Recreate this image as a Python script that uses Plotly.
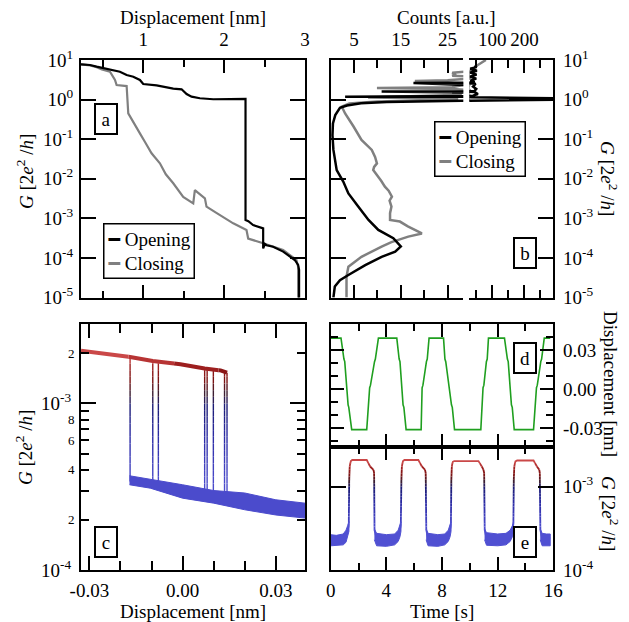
import numpy as np
import plotly.graph_objects as go

FONT = "Liberation Serif, Times New Roman, Times, serif"
# page origin of the plot div is offset by the browser's 8px body margin
OFF = 8
W, H = 629 - OFF, 622 - OFF

# ---------------- Panel a : G vs displacement ----------------
a_open_disp = [0.232, 0.343, 0.425, 0.549, 0.631, 0.713, 0.796, 0.878, 0.960, 1.001, 1.166, 1.290,
               1.372, 1.475, 1.537, 1.598, 1.701, 1.866, 2.113, 2.265, 2.265, 2.300, 2.359, 2.483,
               2.483, 2.505, 2.524, 2.606, 2.730, 2.812, 2.874, 2.915, 2.927, 2.927]
a_open_G = [7.78, 7.48, 6.79, 5.93, 5.38, 5.07, 4.18, 3.79, 3.13, 2.48, 2.29, 2.04,
            1.89, 1.82, 1.38, 1.19, 1.08, 1.02, 1.06, 1.04, 9.1e-4, 8.5e-4, 6.8e-4, 5.6e-4,
            1.75e-4, 2.25e-4, 2.1e-4, 1.93e-4, 1.45e-4, 1.12e-4, 8.9e-5, 6.7e-5, 5.0e-5, 5e-6]
a_close_disp = [0.232, 0.343, 0.425, 0.490, 0.590, 0.652, 0.672, 0.796, 0.816, 0.880, 0.960, 1.030,
                1.104, 1.207, 1.280, 1.372, 1.430, 1.495, 1.619, 1.639, 1.763, 1.783, 1.900, 2.000,
                2.113, 2.277, 2.298, 2.483, 2.730, 2.894, 2.915, 2.915]
a_close_G = [7.78, 7.30, 6.60, 5.80, 5.07, 3.13, 2.34, 2.20, 0.45, 0.26, 0.14, 0.08,
             0.044, 0.0246, 0.013, 7.7e-3, 5.2e-3, 3.5e-3, 2.4e-3, 5.2e-3, 3.2e-3, 1.98e-3, 1.4e-3, 1.05e-3,
             7.5e-4, 5.1e-4, 3.1e-4, 2.35e-4, 1.6e-4, 8.9e-5, 6.0e-5, 5e-6]

# ---------------- Panel b : histograms (counts vs log G) ----------------
b_open_logG = [0.86, 0.82, 0.78, 0.73, 0.68, 0.63, 0.58, 0.53, 0.48, 0.44, 0.42, 0.40, 0.33, 0.27,
               0.22, 0.205, 0.19, 0.14, 0.10, 0.075, 0.06, 0.03, 0.0, -0.03, -0.06, -0.09, -0.15,
               -0.21, -0.30, -0.39, -0.60, -0.90, -1.27, -1.55, -1.78, -2.07, -2.37, -2.70, -3.04,
               -3.29, -3.50, -3.71, -3.84, -3.97, -4.18, -4.43, -4.56, -4.72, -4.98, -5.0]
b_open_counts = [45, 51, 31, 52, 31, 51, 31, 50, 32, 45, 17.7, 48, 40, 50,
                 45, 10.9, 45, 55, 40, 3.1, 35, 300, 300, 28, 12, 6.5, 3.5,
                 2.0, 1.4, 1.0, 0.5, 0.4, 0.6, 1.0, 1.3, 2.7, 3.8, 5.9, 8.1,
                 10.2, 13.4, 15.0, 13.8, 10.9, 7.4, 3.8, 2.0, 0.9, 0.6, 0.6]
b_close_logG = [1.0, 0.96, 0.90, 0.85, 0.80, 0.76, 0.72, 0.68, 0.64, 0.60, 0.57, 0.53, 0.49, 0.47,
                0.44, 0.40, 0.36, 0.31, 0.29, 0.27, 0.22, 0.17, 0.12, 0.08, 0.05, 0.02, -0.01,
                -0.05, -0.10, -0.18, -0.35, -0.68, -1.02, -1.27, -1.45, -1.61, -1.70, -1.78, -1.95,
                -2.05, -2.20, -2.30, -2.45, -2.55, -2.70, -2.87, -3.04, -3.08, -3.20, -3.38, -3.46,
                -3.60, -3.71, -3.97, -4.22, -4.47, -5.0]
b_close_counts = [80, 70, 60, 50, 42, 36, 30, 26, 26.5, 26, 35, 30, 25, 18,
                  26, 30, 28, 26, 9.9, 26, 32, 26, 28, 18, 8, 27, 27,
                  10, 4.0, 2.4, 3.1, 4.9, 6.6, 8.8, 9.5, 9.9, 9.3, 9.1, 10.2,
                  10.8, 11.6, 12.4, 13.1, 12.6, 13.0, 12.7, 12.7, 14.8, 16.5, 19.5, 16.6,
                  13.0, 10.9, 6.6, 3.8, 3.4, 3.4]

# ---------------- Panel c : G vs displacement (switching) ----------------
c_high_disp = [-0.0327, -0.0169, -0.0096, -0.0007, 0.0071, 0.0122, 0.0143]
c_high_G = [2.07e-3, 1.90e-3, 1.80e-3, 1.72e-3, 1.62e-3, 1.58e-3, 1.53e-3]
c_jump_disp = [-0.0169, -0.0096, -0.0078, 0.0071, 0.0079, 0.0099, 0.0135, 0.0143]
c_jump_top = [1.90e-3, 1.80e-3, 1.78e-3, 1.62e-3, 1.61e-3, 1.60e-3, 1.57e-3, 1.53e-3]
c_jump_bottom = [3.4e-4, 3.2e-4, 3.15e-4, 2.9e-4, 2.9e-4, 2.85e-4, 2.8e-4, 2.8e-4]
c_low_disp = [-0.0171, -0.0104, 0.0, 0.010, 0.020, 0.030, 0.0394]
c_low_upper = [3.68e-4, 3.51e-4, 3.25e-4, 3.0e-4, 2.9e-4, 2.64e-4, 2.52e-4]
c_low_lower = [3.25e-4, 3.10e-4, 2.70e-4, 2.52e-4, 2.3e-4, 2.14e-4, 2.05e-4]

# ---------------- Panel d : displacement vs time ----------------
d_time = [0.0, 0.74, 0.95, 1.01, 1.25, 1.30, 1.51, 2.59, 2.80, 2.86, 3.15, 3.21, 3.43,
          4.75, 4.92, 4.98, 5.20, 5.26, 5.42, 6.50, 6.57, 6.63, 6.88, 6.94, 7.07,
          8.11, 8.21, 8.27, 8.68, 8.74, 8.90, 10.79, 10.95, 11.01, 11.19, 11.25, 11.34,
          12.49, 12.70, 12.76, 12.99, 13.05, 13.19, 14.58, 14.79, 14.85, 15.10, 15.16, 15.35, 15.78]
d_disp = [0.039, 0.039, 0.023, 0.021, -0.012, -0.014, -0.031, -0.031, 0.001, 0.003, 0.021, 0.023, 0.039,
          0.039, 0.023, 0.021, -0.012, -0.014, -0.031, -0.031, 0.001, 0.003, 0.021, 0.023, 0.039,
          0.039, 0.023, 0.021, -0.012, -0.014, -0.031, -0.031, 0.001, 0.003, 0.021, 0.023, 0.039,
          0.039, 0.023, 0.021, -0.012, -0.014, -0.031, -0.031, 0.001, 0.003, 0.021, 0.023, 0.039, 0.039]

# ---------------- Panel e : G vs time ----------------
e_time = [0.0, 1.0, 1.2, 1.30, 1.33, 1.37, 1.45, 1.55, 2.59, 2.83, 3.07, 3.12, 3.15, 3.3,
          4.7, 4.95, 5.04, 5.08, 5.12, 5.20, 5.30, 6.30, 6.55, 6.78, 6.83, 6.87, 7.0,
          8.35, 8.55, 8.64, 8.67, 8.71, 8.78, 8.88, 10.62, 10.86, 10.98, 11.03, 11.07, 11.2,
          12.75, 13.0, 13.13, 13.16, 13.20, 13.28, 13.40, 14.58, 14.82, 14.99, 15.03, 15.07, 15.2, 15.78]
e_G = [2.3e-4, 2.4e-4, 2.9e-4, 3.4e-4, 1.2e-3, 1.8e-3, 2.02e-3, 2.08e-3, 2.08e-3, 1.74e-3, 1.60e-3, 1.45e-3, 3.0e-4, 2.4e-4,
       2.4e-4, 2.9e-4, 3.4e-4, 1.2e-3, 1.8e-3, 2.02e-3, 2.08e-3, 2.08e-3, 1.74e-3, 1.60e-3, 1.45e-3, 3.0e-4, 2.4e-4,
       2.4e-4, 2.9e-4, 3.4e-4, 1.2e-3, 1.8e-3, 1.98e-3, 2.02e-3, 2.02e-3, 1.74e-3, 1.60e-3, 1.45e-3, 3.0e-4, 2.4e-4,
       2.4e-4, 2.9e-4, 3.4e-4, 1.2e-3, 1.8e-3, 2.0e-3, 2.05e-3, 2.05e-3, 1.74e-3, 1.60e-3, 1.45e-3, 3.0e-4, 2.4e-4, 2.4e-4]
e_band_time = [[0.0, 0.4, 0.9, 1.1, 1.22, 1.31],
               [3.14, 3.3, 4.0, 4.6, 4.85, 4.98, 5.05],
               [6.86, 7.0, 7.7, 8.2, 8.45, 8.58, 8.65],
               [11.06, 11.2, 12.0, 12.6, 12.9, 13.06, 13.14],
               [15.06, 15.2, 15.5, 15.78]]
e_band_upper = [[2.65e-4, 2.6e-4, 2.7e-4, 3.0e-4, 3.4e-4, 3.8e-4],
                [3.1e-4, 2.75e-4, 2.65e-4, 2.7e-4, 3.0e-4, 3.4e-4, 3.8e-4],
                [3.1e-4, 2.75e-4, 2.65e-4, 2.7e-4, 3.0e-4, 3.4e-4, 3.8e-4],
                [3.1e-4, 2.8e-4, 2.7e-4, 2.75e-4, 3.0e-4, 3.4e-4, 3.8e-4],
                [3.1e-4, 2.75e-4, 2.7e-4, 2.7e-4]]
e_band_lower = [[1.95e-4, 1.95e-4, 2.0e-4, 2.15e-4, 2.45e-4, 2.9e-4],
                [2.3e-4, 1.95e-4, 1.92e-4, 2.0e-4, 2.2e-4, 2.5e-4, 2.9e-4],
                [2.3e-4, 1.95e-4, 1.92e-4, 2.0e-4, 2.2e-4, 2.5e-4, 2.9e-4],
                [2.3e-4, 1.98e-4, 1.95e-4, 2.0e-4, 2.2e-4, 2.5e-4, 2.9e-4],
                [2.3e-4, 1.95e-4, 1.95e-4, 1.95e-4]]

# tick labels / legend text
a_xticks = [1, 2, 3]
a_yticks = [1e-5, 1e-4, 1e-3, 1e-2, 1e-1, 1e0, 1e1]
a_ytext = ["10<sup>-5</sup>", "10<sup>-4</sup>", "10<sup>-3</sup>", "10<sup>-2</sup>",
           "10<sup>-1</sup>", "10<sup>0</sup>", "10<sup>1</sup>"]
b_xticks_left = [5, 15, 25]
b_xticks_right = [100, 200]
c_xticks = [-0.03, 0.0, 0.03]
c_xtext = ["-0.03", "0.00", "0.03"]
c_yminor = [2e-4, 3e-4, 4e-4, 5e-4, 6e-4, 7e-4, 8e-4, 9e-4, 2e-3]
c_yminor_text = ["2", "", "4", "", "6", "", "8", "", "2"]
d_yticks = [-0.03, 0.0, 0.03]
d_ytext = ["-0.03", "0.00", "0.03"]
e_xticks = [0, 4, 8, 12, 16]
e_yticks = [1e-4, 1e-3]
e_ytext = ["10<sup>-4</sup>", "10<sup>-3</sup>"]
series_names = ["Opening", "Closing"]

BLACK, GRAY = "#000000", "#808080"


# ---------------- helpers ----------------
def px_x(p):
    return (p - OFF) / W


def px_y(p):
    return 1 - (p - OFF) / H


STOPS = [(-3.75, (92, 92, 218)), (-3.45, (72, 72, 200)), (-3.2, (44, 44, 165)), (-3.02, (28, 28, 118)),
         (-2.94, (60, 30, 50)), (-2.87, (118, 18, 18)), (-2.79, (150, 26, 26)), (-2.72, (196, 62, 62)),
         (-2.62, (226, 110, 110))]


def cmap(v):
    if v <= STOPS[0][0]:
        c = STOPS[0][1]
    elif v >= STOPS[-1][0]:
        c = STOPS[-1][1]
    else:
        for (v0, c0), (v1, c1) in zip(STOPS[:-1], STOPS[1:]):
            if v0 <= v <= v1:
                f = (v - v0) / (v1 - v0)
                c = tuple(c0[i] + (c1[i] - c0[i]) * f for i in range(3))
                break
    return "rgb(%d,%d,%d)" % tuple(int(round(x)) for x in c)


STEP = 0.04
EDGES = np.arange(-4.2, -2.2, STEP)


def add_gradient(fig, polylines, xa, ya, width):
    """Draw polylines coloured by log10(G) (splits segments at colour-bin edges)."""
    pieces = []
    for xs, ys in polylines:
        ls = np.log10(np.array(ys, dtype=float))
        run = None
        for i in range(len(xs) - 1):
            x0, x1, l0, l1 = xs[i], xs[i + 1], ls[i], ls[i + 1]
            ts = [0.0, 1.0]
            if l1 != l0:
                lo, hi = min(l0, l1), max(l0, l1)
                ts += [(e - l0) / (l1 - l0) for e in EDGES if lo < e < hi]
            ts.sort()
            for ta, tb in zip(ts[:-1], ts[1:]):
                xa_, xb_ = x0 + (x1 - x0) * ta, x0 + (x1 - x0) * tb
                la, lb = l0 + (l1 - l0) * ta, l0 + (l1 - l0) * tb
                b = int(np.floor(((la + lb) / 2 - EDGES[0]) / STEP))
                if run is not None and run[0] == b:
                    run[1].append(xb_)
                    run[2].append(10 ** lb)
                else:
                    if run is not None:
                        pieces.append(run)
                    run = [b, [xa_, xb_], [10 ** la, 10 ** lb]]
        if run is not None:
            pieces.append(run)
    bins = {}
    for b, xs, ys in pieces:
        bx, by = bins.setdefault(b, ([], []))
        bx.extend(xs + [None])
        by.extend(ys + [None])
    for b, (bx, by) in sorted(bins.items()):
        fig.add_trace(go.Scatter(x=bx, y=by, xaxis=xa, yaxis=ya, mode="lines",
                                 line=dict(color=cmap(EDGES[0] + (b + 0.5) * STEP), width=width),
                                 showlegend=False, hoverinfo="skip"))


fig = go.Figure()

# ---- panel a
fig.add_trace(go.Scatter(x=a_close_disp, y=a_close_G, xaxis="x", yaxis="y", mode="lines",
                         line=dict(color=GRAY, width=2.2), name="Closing", showlegend=False, hoverinfo="skip"))
fig.add_trace(go.Scatter(x=a_open_disp, y=a_open_G, xaxis="x", yaxis="y", mode="lines",
                         line=dict(color=BLACK, width=2.2), name="Opening", showlegend=False, hoverinfo="skip"))

# ---- panel b (broken axis: left part x2/y2, right part x3/y3)
b_open_G = [10 ** v for v in b_open_logG]
b_close_G = [10 ** v for v in b_close_logG]
for xa, ya in (("x2", "y2"), ("x3", "y3")):
    fig.add_trace(go.Scatter(x=b_close_counts, y=b_close_G, xaxis=xa, yaxis=ya, mode="lines",
                             line=dict(color=GRAY, width=2.5), name="Closing", showlegend=False,
                             hoverinfo="skip"))
    fig.add_trace(go.Scatter(x=b_open_counts, y=b_open_G, xaxis=xa, yaxis=ya, mode="lines",
                             line=dict(color=BLACK, width=2.5), name="Opening", showlegend=False,
                             hoverinfo="skip"))

# ---- panel c
jumps = [([d, d], [t, b]) for d, t, b in zip(c_jump_disp, c_jump_top, c_jump_bottom)]
add_gradient(fig, jumps, "x4", "y4", 1.4)
add_gradient(fig, [(c_high_disp, c_high_G)], "x4", "y4", 4)
fig.add_trace(go.Scatter(x=c_low_disp + c_low_disp[::-1], y=c_low_upper + c_low_lower[::-1],
                         xaxis="x4", yaxis="y4", mode="lines", fill="toself", fillcolor="#4b4bcc",
                         line=dict(color="#4b4bcc", width=1), showlegend=False, hoverinfo="skip"))
fig.add_trace(go.Scatter(x=[0], y=[1e-3], xaxis="x4", yaxis="y5", mode="markers",
                         marker=dict(opacity=0), showlegend=False, hoverinfo="skip"))

# ---- panel d
fig.add_trace(go.Scatter(x=d_time, y=d_disp, xaxis="x5", yaxis="y6", mode="lines",
                         line=dict(color="#1f9f1f", width=1.6), showlegend=False, hoverinfo="skip"))

# ---- panel e
add_gradient(fig, [(e_time, e_G)], "x6", "y7", 1.8)
bx, by = [], []
for t, u, l in zip(e_band_time, e_band_upper, e_band_lower):
    bx += t + t[::-1] + [None]
    by += u + l[::-1] + [None]
fig.add_trace(go.Scatter(x=bx, y=by, xaxis="x6", yaxis="y7", mode="lines", fill="toself",
                         fillcolor="#5050d2", line=dict(color="#5050d2", width=1),
                         showlegend=False, hoverinfo="skip"))

# ---------------- layout ----------------
TF = dict(family=FONT, size=19, color="black")
base = dict(showline=True, linecolor="black", linewidth=2, ticks="inside", tickcolor="black",
            tickwidth=2, showgrid=False, zeroline=False, tickfont=TF, automargin=False)


def minor(vals, ln):
    return dict(tickvals=vals, ticklen=ln, tickwidth=2, tickcolor="black", ticks="inside", showgrid=False)


ax_a = [px_x(81), px_x(305)]
y_top = [px_y(297.6), px_y(60)]
ax_d = [px_x(330.7), px_x(553.3)]

layout = dict(
    width=W, height=H, margin=dict(l=0, r=0, t=0, b=0, pad=0, autoexpand=False),
    paper_bgcolor="white", plot_bgcolor="white", font=TF, showlegend=False,
    xaxis=dict(base, domain=ax_a, anchor="y", side="top", mirror="ticks", range=[0.232, 3.0],
               tickvals=a_xticks, ticklen=13, ticklabelstandoff=4, minor=minor([0.5, 1.5, 2.5], 7)),
    yaxis=dict(base, domain=y_top, anchor="x", type="log", range=[-5, 1], mirror="ticks",
               tickvals=a_yticks, ticktext=a_ytext, ticklen=15, ticklabelstandoff=2),
    xaxis2=dict(base, domain=[px_x(330.6), px_x(463.3)], anchor="y2", side="top", mirror="ticks",
                range=[0, 28.35], tickvals=b_xticks_left, ticklen=13, ticklabelstandoff=4,
                minor=minor([10, 20], 8)),
    yaxis2=dict(base, domain=y_top, anchor="x2", type="log", range=[-5, 1], side="left",
                tickvals=a_yticks, ticklen=15, showticklabels=False),
    xaxis3=dict(base, domain=[px_x(469.3), px_x(553.3)], anchor="y3", side="top", mirror="ticks",
                range=[28.35, 290], tickvals=b_xticks_right, ticklen=13, ticklabelstandoff=4,
                minor=minor([50, 150, 250], 8)),
    yaxis3=dict(base, domain=y_top, anchor="x3", type="log", range=[-5, 1], side="right",
                tickvals=a_yticks, ticktext=a_ytext, ticklen=15, ticklabelstandoff=4),
    xaxis4=dict(base, domain=ax_a, anchor="y4", side="bottom", mirror="ticks", range=[-0.0327, 0.0394],
                tickvals=c_xticks, ticktext=c_xtext, ticklen=14, ticklabelstandoff=2,
                minor=minor([-0.02, -0.01, 0.01, 0.02], 9)),
    yaxis4=dict(base, domain=[px_y(570), px_y(324)], anchor="x4", type="log",
                range=[-4, np.log10(3.0e-3)], mirror="ticks", tickvals=c_yminor,
                ticktext=c_yminor_text, ticklen=8, tickfont=dict(family=FONT, size=13, color="black"),
                ticklabelstandoff=2),
    yaxis5=dict(base, domain=[px_y(570), px_y(324)], anchor="x4", overlaying="y4", type="log",
                range=[-4, np.log10(3.0e-3)], mirror="ticks", side="left", tickvals=e_yticks,
                ticktext=e_ytext, ticklen=15, ticklabelstandoff=4),
    xaxis5=dict(base, domain=ax_d, anchor="y6", mirror="ticks", range=[0, 16], tickvals=[4, 8, 12],
                ticklen=13, showticklabels=False, minor=minor([2, 6, 10, 14], 7)),
    yaxis6=dict(base, domain=[px_y(446.7), px_y(324)], anchor="x5", side="right", mirror="ticks",
                range=[-0.0441, 0.0498], tickvals=d_yticks, ticktext=d_ytext, ticklen=13,
                ticklabelstandoff=4, minor=minor([-0.04, -0.02, -0.01, 0.01, 0.02, 0.04], 7)),
    xaxis6=dict(base, domain=ax_d, anchor="y7", mirror="ticks", range=[0, 16], tickvals=e_xticks,
                ticklen=13, ticklabelstandoff=2, minor=minor([2, 6, 10, 14], 7)),
    yaxis7=dict(base, domain=[px_y(570), px_y(446.7)], anchor="x6", side="right", type="log",
                range=[-4, np.log10(3.0e-3)], mirror="ticks", tickvals=e_yticks, ticktext=e_ytext,
                ticklen=15, ticklabelstandoff=4),
)
fig.update_layout(**layout)

G_TITLE = "<i>G</i> [2<i>e</i><sup>2</sup> /<i>h</i>]"
titles = [
    ("Displacement [nm]", 193, 17, 0),
    ("Counts [a.u.]", 446, 17, 0),
    (G_TITLE, 25, 172, -90),
    (G_TITLE, 609, 178, 90),
    (G_TITLE, 24, 448, -90),
    ("Displacement [nm]", 611, 384, 90),
    (G_TITLE, 610, 513, 90),
    ("Displacement [nm]", 193, 611, 0),
    ("Time [s]", 442, 611, 0),
]
for text, x, y, ang in titles:
    fig.add_annotation(text=text, x=px_x(x), y=px_y(y), xref="paper", yref="paper", showarrow=False,
                       textangle=ang, font=TF, xanchor="center", yanchor="middle")

labels = [("a", 105.5, 119.5), ("b", 525, 253), ("c", 105.5, 542.2), ("d", 525.2, 357.8), ("e", 524.9, 542.2)]
for text, x, y in labels:
    fig.add_annotation(text=text, x=px_x(x), y=px_y(y), xref="paper", yref="paper", showarrow=False,
                       font=TF, bordercolor="black", borderwidth=2, borderpad=2, bgcolor="white",
                       width=16, height=24, xanchor="center", yanchor="middle")

# legends (line key + series name) for panels a and b
legend_text = "<br>".join(
    "<span style='color:%s;font-family:DejaVu Sans'>━</span> %s" % (c, n)
    for c, n in zip((BLACK, GRAY), series_names))
for x, y in ((103, 222.7), (434, 121)):
    fig.add_annotation(text=legend_text, x=px_x(x), y=px_y(y), xref="paper", yref="paper",
                       showarrow=False, font=TF, align="left", bordercolor="black", borderwidth=1.5,
                       borderpad=3, bgcolor="white", xanchor="left", yanchor="top")

fig.write_html("out.html")
